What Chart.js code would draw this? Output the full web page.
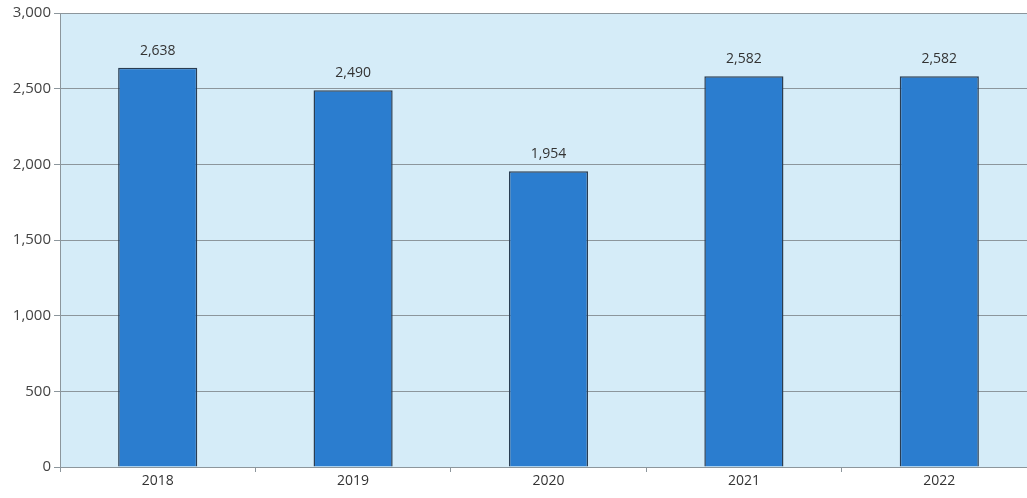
<!DOCTYPE html>
<html>
<head>
<meta charset="utf-8">
<script src="https://cdn.jsdelivr.net/npm/chart.js@4"></script>
<style>
  html, body { margin: 0; padding: 0; background: #fff; overflow: hidden; }
  #wrap { width: 1037px; height: 498px; }
</style>
</head>
<body>
<div id="wrap"><canvas id="chart"></canvas></div>
<script>
// dados
const years = ['2018', '2019', '2020', '2021', '2022'];
const totals = [2638, 2490, 1954, 2582, 2582];
const yTicks = [0, 500, 1000, 1500, 2000, 2500, 3000];

const gridColor = '#8c969c';
const fontFamily = "'Open Sans', 'Liberation Sans', sans-serif";

// fundo azul claro da área do gráfico
const plotBackground = {
    id: 'plotBackground',
    beforeDraw(chart) {
        const { ctx, chartArea: a } = chart;
        ctx.save();
        ctx.fillStyle = '#d5ecf8';
        ctx.fillRect(a.left, a.top, a.right - a.left, a.bottom - a.top);
        ctx.restore();
    }
};

// rótulos de valor acima das barras
const valueLabels = {
    id: 'valueLabels',
    afterDatasetsDraw(chart) {
        const ctx = chart.ctx;
        const meta = chart.getDatasetMeta(0);
        ctx.save();
        ctx.fillStyle = '#333';
        ctx.font = '14px ' + fontFamily;
        ctx.textAlign = 'center';
        ctx.textBaseline = 'bottom';
        meta.data.forEach((bar, i) => {
            ctx.fillText(totals[i].toLocaleString('en-US'), bar.x, bar.y - 10);
        });
        ctx.restore();
    }
};

new Chart(document.getElementById('chart'), {
    type: 'bar',
    data: {
        labels: years,
        datasets: [{
            data: totals,
            backgroundColor: '#2b7dcf',
            borderColor: '#2a3d52',
            borderWidth: 1.5,
            categoryPercentage: 1,
            barPercentage: 0.405
        }]
    },
    options: {
        responsive: true,
        maintainAspectRatio: false,
        animation: false,
        layout: { padding: { top: 13, right: 0, left: 0, bottom: 0 } },
        plugins: {
            legend: { display: false },
            tooltip: { enabled: false }
        },
        scales: {
            x: {
                offset: true,
                grid: {
                    offset: true,
                    drawOnChartArea: false,
                    color: gridColor,
                    tickLength: 5
                },
                border: { color: gridColor, width: 1 },
                ticks: {
                    color: '#333',
                    font: { size: 14, family: fontFamily },
                    padding: 1
                },
                afterFit(scale) { scale.height = 31; }
            },
            y: {
                min: 0,
                max: 3000,
                afterBuildTicks(scale) {
                    scale.ticks = yTicks.map(v => ({ value: v }));
                },
                grid: {
                    color: gridColor,
                    tickLength: 6
                },
                border: { color: gridColor, width: 1 },
                ticks: {
                    color: '#444',
                    font: { size: 15, family: fontFamily },
                    padding: 3,
                    callback: v => v.toLocaleString('en-US')
                },
                afterFit(scale) { scale.width = 60; }
            }
        }
    },
    plugins: [plotBackground, valueLabels]
});
</script>
</body>
</html>
